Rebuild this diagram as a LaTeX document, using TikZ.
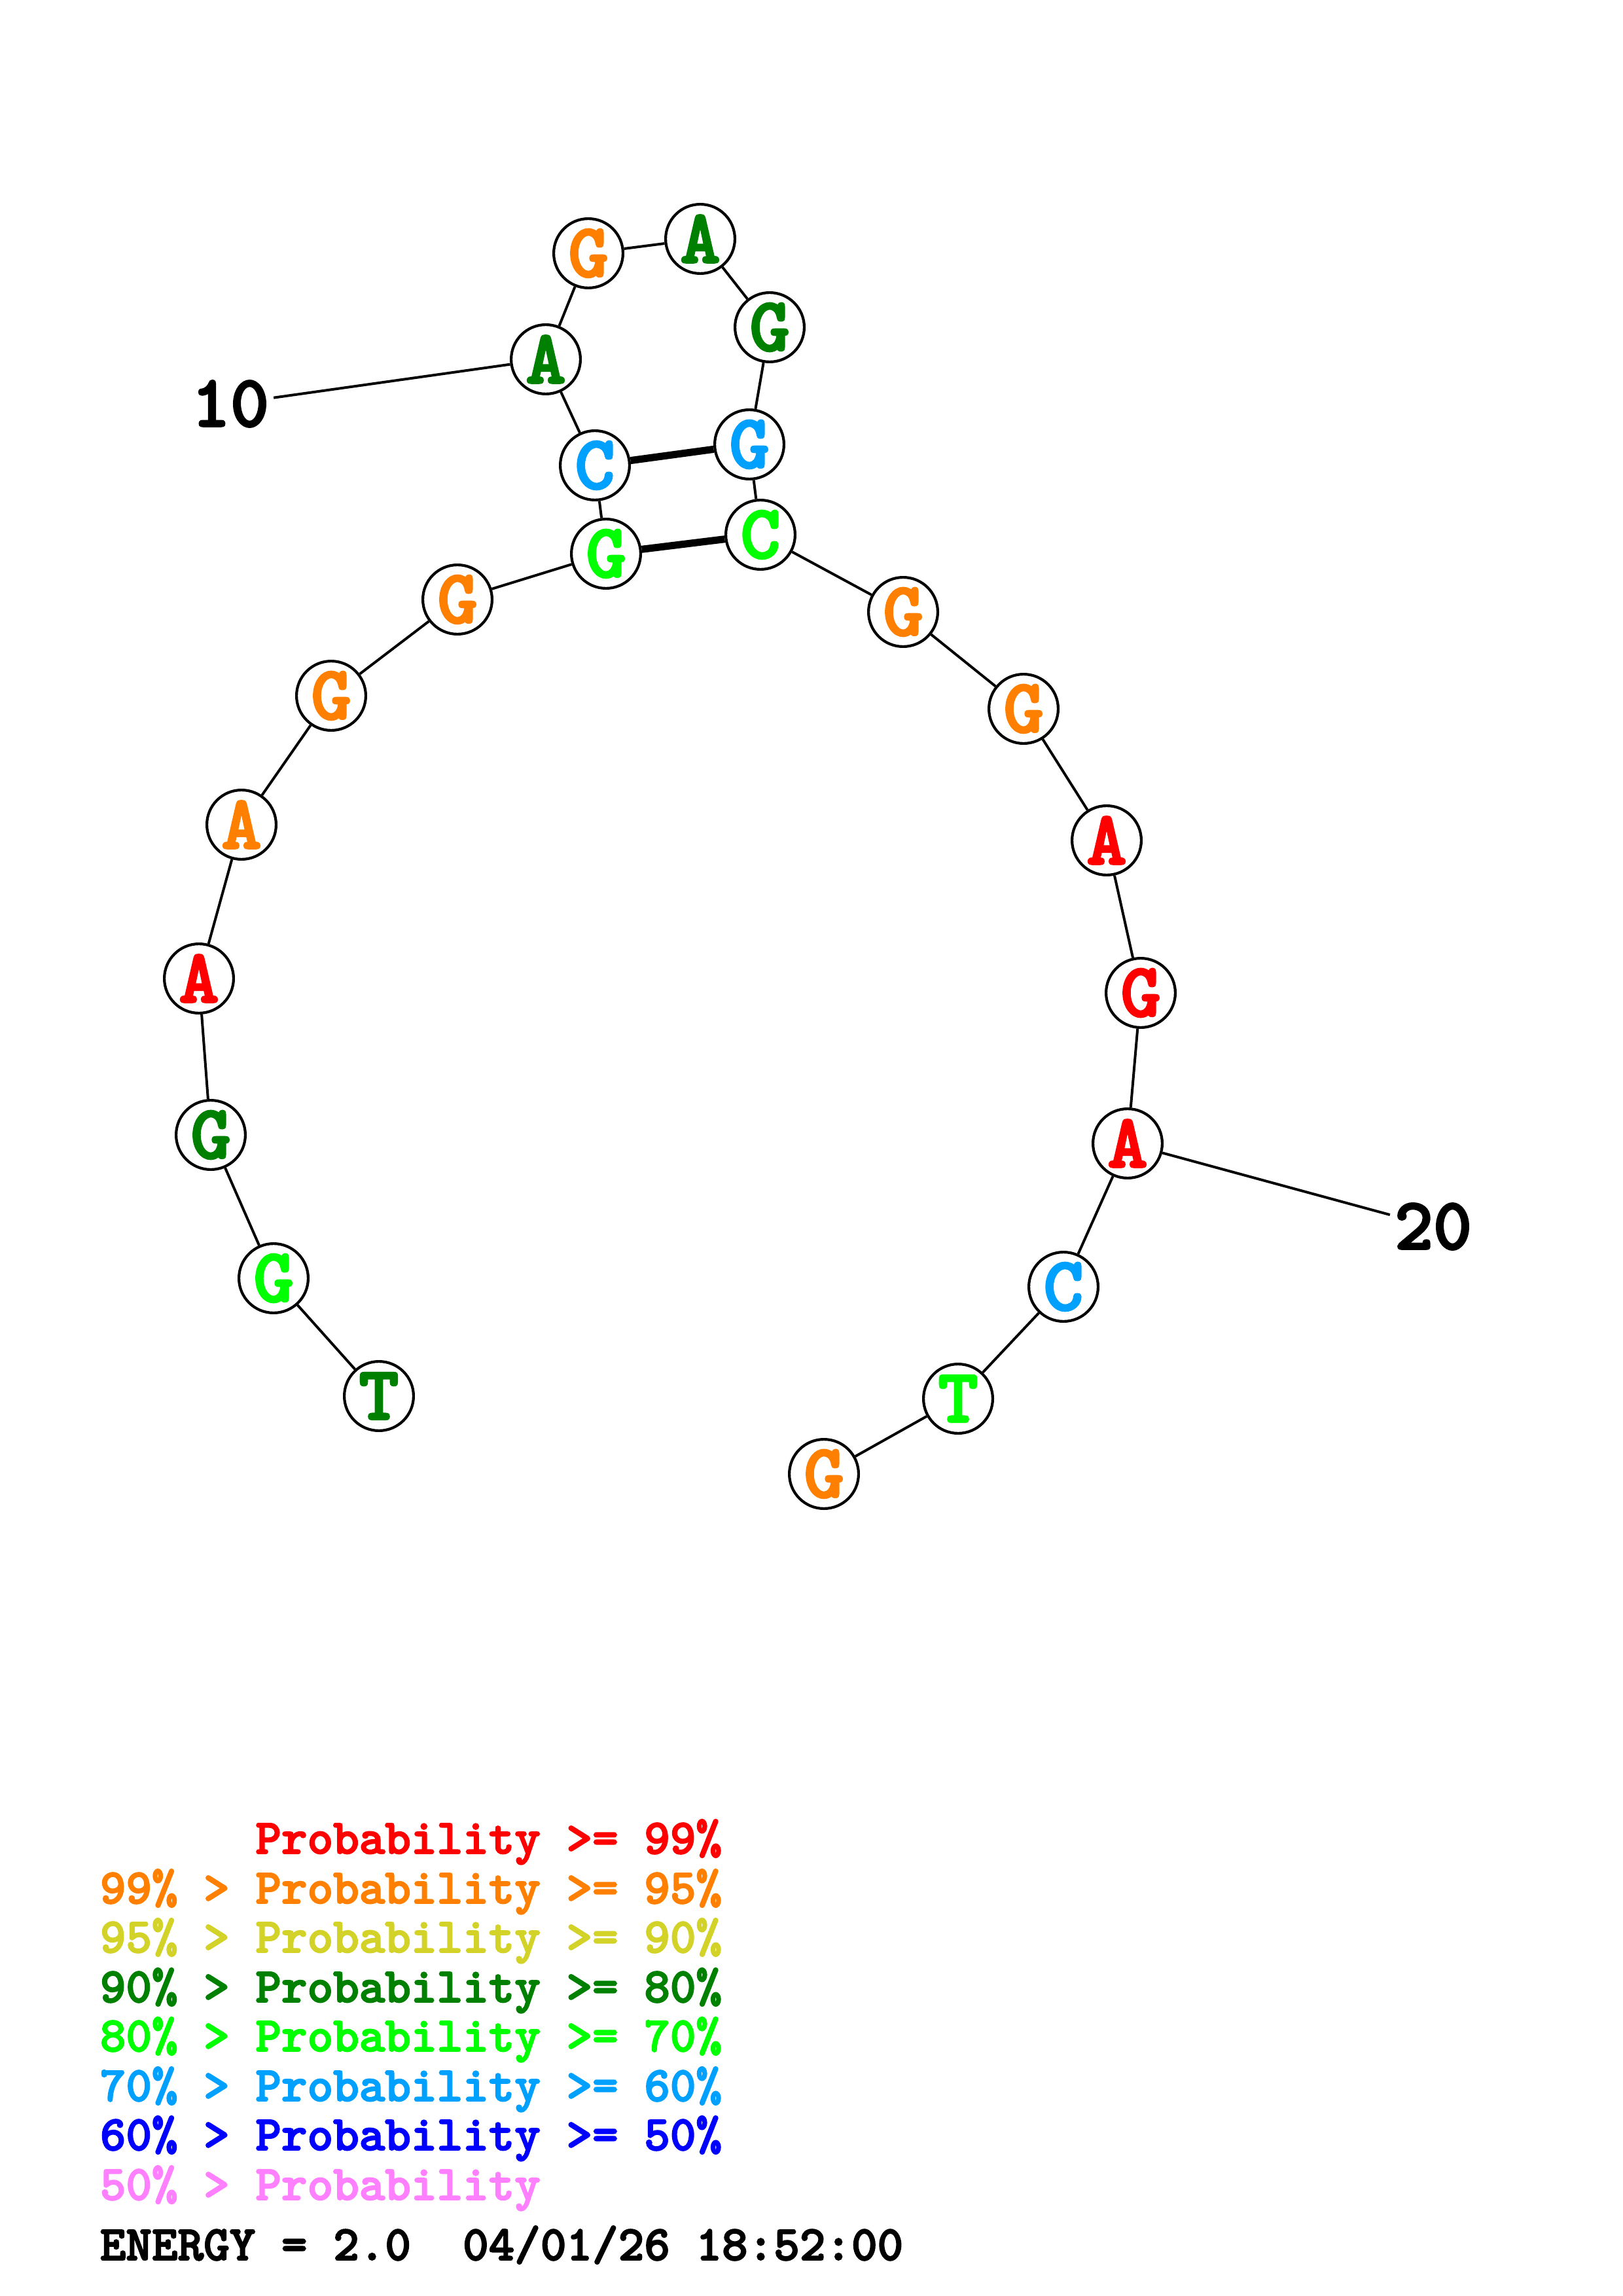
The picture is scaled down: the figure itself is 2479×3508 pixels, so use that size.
\documentclass[tikz,border=0pt]{standalone}
\usepackage{fontspec}
\newfontfamily\cb{lmmonolt10-bold.otf}[FakeBold=2.5]
\definecolor{cred}{RGB}{255,0,0}
\definecolor{corange}{RGB}{255,128,0}
\definecolor{cyellow}{RGB}{210,210,40}
\definecolor{cdgreen}{RGB}{0,128,0}
\definecolor{clgreen}{RGB}{0,255,0}
\definecolor{clblue}{RGB}{0,160,255}
\definecolor{cblue}{RGB}{0,0,255}
\definecolor{cpink}{RGB}{255,128,255}
\tikzset{
  nt/.style={circle, draw=black, fill=white, line width=1pt, minimum size=25.4pt, inner sep=0pt},
  nl/.style={font=\cb\fontsize{28}{28}\selectfont, inner sep=0pt},
  bb/.style={line width=0.95pt},
  pair/.style={line width=2.65pt},
  num/.style={font=\cb\fontsize{27}{27}\selectfont, inner sep=1.5pt},
  leg/.style={font=\cb\fontsize{18.1}{18.1}\selectfont, anchor=base west, inner sep=0pt}
}
\newcommand{\nuc}[5]{\node[nt, label={[nl, text=#5]center:#4}] (#1) at (#2,#3) {};}
\begin{document}
\begin{tikzpicture}[x=0.24pt, y=-0.24pt]
\useasboundingbox (0,0) rectangle (2479,3508);
\nuc{n1}{579}{2133}{T}{cdgreen}
\nuc{n2}{418}{1953}{G}{clgreen}
\nuc{n3}{322}{1734}{G}{cdgreen}
\nuc{n4}{304}{1495}{A}{cred}
\nuc{n5}{369}{1260}{A}{corange}
\nuc{n6}{506}{1063}{G}{corange}
\nuc{n7}{699}{916}{G}{corange}
\nuc{n8}{926}{846}{G}{clgreen}
\nuc{n9}{909}{711}{C}{clblue}
\nuc{n10}{834}{549}{A}{cdgreen}
\nuc{n11}{899}{387}{G}{corange}
\nuc{n12}{1070}{365}{A}{cdgreen}
\nuc{n13}{1176}{500}{G}{cdgreen}
\nuc{n14}{1145}{679}{G}{clblue}
\nuc{n15}{1162}{817}{C}{clgreen}
\nuc{n16}{1380}{935}{G}{corange}
\nuc{n17}{1564}{1083}{G}{corange}
\nuc{n18}{1691}{1284}{A}{cred}
\nuc{n19}{1743}{1517}{G}{cred}
\nuc{n20}{1723}{1747}{A}{cred}
\nuc{n21}{1625}{1966}{C}{clblue}
\nuc{n22}{1464}{2137}{T}{clgreen}
\nuc{n23}{1259}{2252}{G}{corange}
\foreach \a/\b in {1/2,2/3,3/4,4/5,5/6,6/7,7/8,8/9,9/10,10/11,11/12,12/13,13/14,14/15,15/16,16/17,17/18,18/19,19/20,20/21,21/22,22/23}
  \draw[bb] (n\a) -- (n\b);
\draw[pair] (n8) -- (n15);
\draw[pair] (n9) -- (n14);
\node[num] (l10) at (352,617) {10};
\node[num] (l20) at (2190,1874) {20};
\draw[bb] (l10) -- (n10);
\draw[bb] (n20) -- (l20);
\node[leg, text=cred] (g1) at (152,2832) {\hphantom{99\% > }Probability >= 99\%};
\node[leg, text=corange] (g2) at (152,2908) {99\% > Probability >= 95\%};
\node[leg, text=cyellow] (g3) at (152,2983) {95\% > Probability >= 90\%};
\node[leg, text=cdgreen] (g4) at (152,3059) {90\% > Probability >= 80\%};
\node[leg, text=clgreen] (g5) at (152,3134) {80\% > Probability >= 70\%};
\node[leg, text=clblue] (g6) at (152,3210) {70\% > Probability >= 60\%};
\node[leg, text=cblue] (g7) at (152,3285) {60\% > Probability >= 50\%};
\node[leg, text=cpink] (g8) at (152,3361) {50\% > Probability};
\node[leg, text=black] (en) at (152,3453) {ENERGY = 2.0\ \ 04/01/26 18:52:00};
\end{tikzpicture}
\end{document}
